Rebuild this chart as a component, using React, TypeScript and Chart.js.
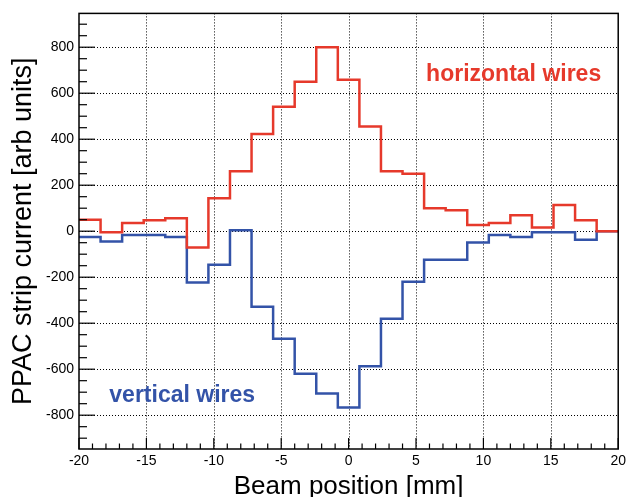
import { useEffect, useRef } from 'react';
import { Chart, registerables } from 'chart.js';

Chart.register(...registerables);

// Bin edges [mm] (25 bins of 1.6 mm)
const binEdges = [
  -20, -18.4, -16.8, -15.2, -13.6, -12, -10.4, -8.8, -7.2, -5.6, -4, -2.4, -0.8,
  0.8, 2.4, 4, 5.6, 7.2, 8.8, 10.4, 12, 13.6, 15.2, 16.8, 18.4, 20,
];

// PPAC strip currents per bin [arb units]
const horizontalWires = [
  50, -5, 36, 48, 56, -71, 143, 261, 423, 541, 650, 800, 658,
  455, 261, 250, 100, 91, 27, 36, 69, 16, 114, 48, 0,
];
const verticalWires = [
  -25, -45, -17, -17, -25, -223, -146, 4, -328, -468, -620, -706, -767,
  -587, -381, -220, -124, -124, -49, -16, -25, -5, -5, -37, 0,
];

const xTickValues = [-20, -15, -10, -5, 0, 5, 10, 15, 20];
const yTickValues = [-800, -600, -400, -200, 0, 200, 400, 600, 800];

const X_MIN = -20;
const X_MAX = 20;
const Y_MIN = -947;
const Y_MAX = 947;

const RED = '#e6392b';
const BLUE = '#3353a8';
const FONT = '"Liberation Sans", Arial, Helvetica, sans-serif';

const annotations = [
  { text: 'horizontal wires', x: 5.75, y: 681, color: RED },
  { text: 'vertical wires', x: -17.75, y: -713, color: BLUE },
];

function toSteps(values: number[]) {
  const pts = values.map((v, i) => ({ x: binEdges[i], y: v }));
  pts.push({ x: binEdges[values.length], y: values[values.length - 1] });
  return pts;
}

const rootFrame = {
  id: 'rootFrame',
  beforeDatasetsDraw(chart: any) {
    const { ctx, chartArea, scales } = chart;
    const { left, right, top, bottom } = chartArea;
    const xs = scales.x;
    const ys = scales.y;
    ctx.save();
    ctx.strokeStyle = '#000';
    ctx.lineWidth = 1;
    ctx.setLineDash([1, 2]);
    xTickValues.forEach((v) => {
      if (v <= X_MIN || v >= X_MAX) return;
      const px = Math.round(xs.getPixelForValue(v)) + 0.5;
      ctx.beginPath();
      ctx.moveTo(px, top);
      ctx.lineTo(px, bottom);
      ctx.stroke();
    });
    yTickValues.forEach((v) => {
      const py = Math.round(ys.getPixelForValue(v)) + 0.5;
      ctx.beginPath();
      ctx.moveTo(left, py);
      ctx.lineTo(right, py);
      ctx.stroke();
    });
    ctx.restore();
  },
  afterDatasetsDraw(chart: any) {
    const { ctx, chartArea, scales } = chart;
    const { left, right, top, bottom } = chartArea;
    const xs = scales.x;
    const ys = scales.y;
    ctx.save();
    ctx.strokeStyle = '#000';
    ctx.setLineDash([]);
    ctx.lineWidth = 1.2;
    // minor/major ticks on x axis (inside)
    for (let v = X_MIN; v <= X_MAX; v += 1) {
      const px = xs.getPixelForValue(v);
      const len = v % 5 === 0 ? 11 : 5.5;
      ctx.beginPath();
      ctx.moveTo(px, bottom);
      ctx.lineTo(px, bottom - len);
      ctx.stroke();
    }
    // minor/major ticks on y axis (inside)
    for (let v = -900; v <= 900; v += 50) {
      const py = ys.getPixelForValue(v);
      const len = v % 200 === 0 ? 16 : 8;
      ctx.beginPath();
      ctx.moveTo(left, py);
      ctx.lineTo(left + len, py);
      ctx.stroke();
    }
    // frame
    ctx.lineWidth = 1.5;
    ctx.strokeRect(left, top, right - left, bottom - top);
    // annotations
    ctx.font = `bold 23px ${FONT}`;
    ctx.textAlign = 'left';
    ctx.textBaseline = 'middle';
    annotations.forEach((a) => {
      ctx.fillStyle = a.color;
      ctx.fillText(a.text, xs.getPixelForValue(a.x), ys.getPixelForValue(a.y));
    });
    ctx.restore();
  },
};

export default function App() {
  const canvasRef = useRef<HTMLCanvasElement | null>(null);

  useEffect(() => {
    document.body.style.margin = '0';
    const canvas = canvasRef.current;
    if (!canvas) return;
    const chart = new Chart(canvas, {
      type: 'line',
      data: {
        datasets: [
          {
            label: 'horizontal wires',
            data: toSteps(horizontalWires),
            borderColor: RED,
            borderWidth: 2.5,
            stepped: true,
            pointRadius: 0,
            fill: false,
          },
          {
            label: 'vertical wires',
            data: toSteps(verticalWires),
            borderColor: BLUE,
            borderWidth: 2.5,
            stepped: true,
            pointRadius: 0,
            fill: false,
          },
        ],
      },
      options: {
        animation: false,
        responsive: false,
        maintainAspectRatio: false,
        layout: { padding: { top: 12, right: 8, left: 0, bottom: 0 } },
        plugins: {
          legend: { display: false },
          tooltip: { enabled: false },
        },
        scales: {
          x: {
            type: 'linear',
            min: X_MIN,
            max: X_MAX,
            grid: { display: false, drawTicks: false },
            border: { display: false },
            afterBuildTicks: (scale: any) => {
              scale.ticks = xTickValues.map((v) => ({ value: v }));
            },
            afterFit: (scale: any) => {
              scale.height = 48;
            },
            ticks: {
              color: '#000',
              padding: 4,
              maxRotation: 0,
              autoSkip: false,
              font: { family: FONT, size: 14 },
              callback: (v: any) => String(v),
            },
            title: {
              display: true,
              text: 'Beam position [mm]',
              color: '#000',
              padding: 0,
              font: { family: FONT, size: 26, lineHeight: 0.78 },
            },
          },
          y: {
            type: 'linear',
            min: Y_MIN,
            max: Y_MAX,
            grid: { display: false, drawTicks: false },
            border: { display: false },
            afterBuildTicks: (scale: any) => {
              scale.ticks = yTickValues.map((v) => ({ value: v }));
            },
            afterFit: (scale: any) => {
              scale.width = 79;
            },
            ticks: {
              color: '#000',
              padding: 5,
              autoSkip: false,
              font: { family: FONT, size: 14 },
              callback: (v: any) => String(v),
            },
            title: {
              display: true,
              text: 'PPAC strip current [arb units]',
              color: '#000',
              padding: { top: 7, bottom: 0 },
              font: { family: FONT, size: 27, lineHeight: 1.2 },
            },
          },
        },
      },
      plugins: [rootFrame],
    });
    return () => chart.destroy();
  }, []);

  return (
    <div style={{ width: 630, height: 497 }}>
      <canvas ref={canvasRef} width={630} height={497} style={{ display: 'block' }} />
    </div>
  );
}
